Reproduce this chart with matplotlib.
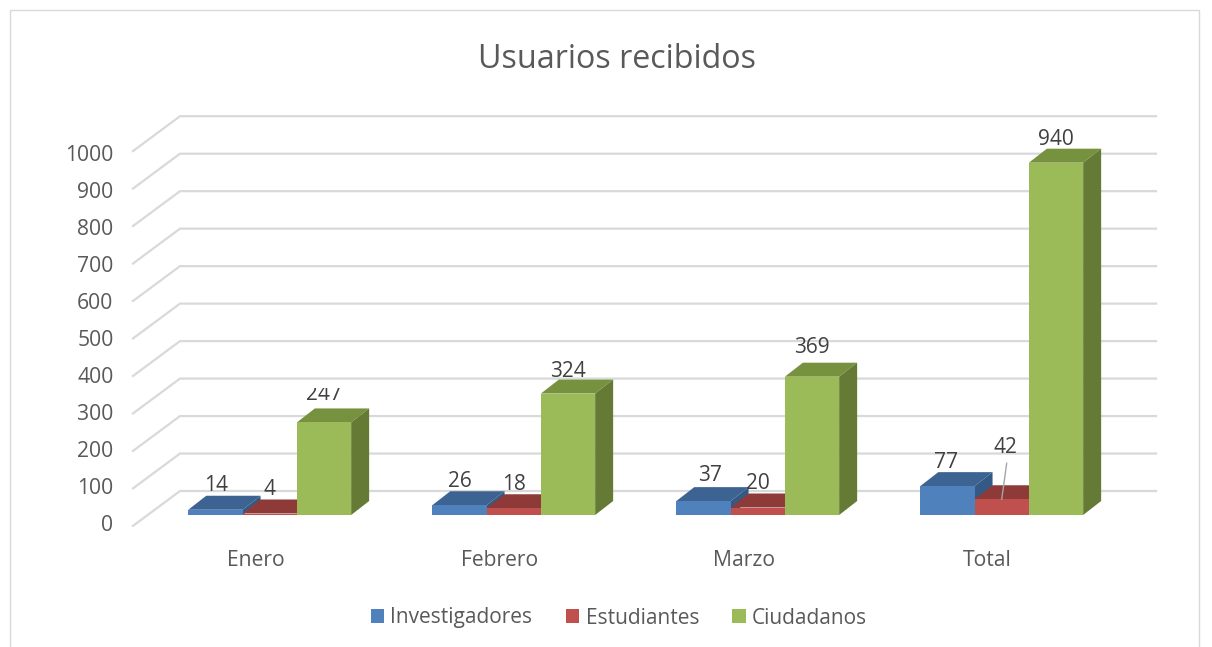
import numpy as np
import matplotlib
matplotlib.use("Agg")
import matplotlib.pyplot as plt
from matplotlib.patches import Polygon, Rectangle
from matplotlib.transforms import Bbox

plt.rcParams['font.family'] = ['Open Sans', 'DejaVu Sans']

months = ['Enero', 'Febrero', 'Marzo', 'Total']
investigadores = [14, 26, 37, 77]
estudiantes = [4, 18, 20, 42]
ciudadanos = [247, 324, 369, 940]
y_ticks = [0, 100, 200, 300, 400, 500, 600, 700, 800, 900, 1000]

W, H = 1212, 647
PX_X = 244.0     # pixels per category
PX_Y = 0.3748    # pixels per user
X0, Y0 = 269.7, 515.0  # pixel of first group centre / bar base

bar_w = 54.3 / PX_X
depth_x = 18 / PX_X
depth_y = 14 / PX_Y

series = [
    ('Investigadores', investigadores, '#4f81bd', '#3c6391', '#335a85'),
    ('Estudiantes', estudiantes, '#c0504d', '#8e3a38', '#7f3432'),
    ('Ciudadanos', ciudadanos, '#9bbb59', '#77923f', '#647a35'),
]

fig = plt.figure(figsize=(W / 100, H / 100), dpi=100)
fig.add_artist(Rectangle((9.5 / W, -0.05), 1189.5 / W, 1.05 - 10 / H, fill=False,
                         edgecolor='#d9d9d9', lw=1.0, transform=fig.transFigure))

left, right, top, bottom = 133, 1156, 100, 526
ax = fig.add_axes([left / W, 1 - bottom / H, (right - left) / W, (bottom - top) / H])
ax.set_xlim((left - X0) / PX_X, (right - X0) / PX_X)
ax.set_ylim((Y0 - bottom) / PX_Y, (Y0 - top) / PX_Y)
for s in ax.spines.values():
    s.set_visible(False)

# walls: gridlines run back from the front edge, then across the back
x_front = ax.get_xlim()[0]
x_back = (180 - X0) / PX_X
x_end = ax.get_xlim()[1]
for v in y_ticks:
    ax.plot([x_front, x_back, x_end], [v - 29, v + 64, v + 64], color='#d9d9d9',
            lw=1.6, zorder=1, solid_joinstyle='miter', clip_on=False)

# bars, left to right so the next one hides the previous depth faces
x = np.arange(len(months))
for i, (name, vals, front, top_c, side) in enumerate(series):
    xs = x + (i - 1) * bar_w
    ax.bar(xs, vals, width=bar_w, color=front, label=name, zorder=3 + i * 2)
    for xc, v in zip(xs, vals):
        l, r = xc - bar_w / 2, xc + bar_w / 2
        ax.add_patch(Polygon([(l, v), (r, v), (r + depth_x, v + depth_y), (l + depth_x, v + depth_y)],
                             facecolor=top_c, edgecolor='none', zorder=2 + i * 2))
        ax.add_patch(Polygon([(r, 0), (r, v), (r + depth_x, v + depth_y), (r + depth_x, depth_y)],
                             facecolor=side, edgecolor='none', zorder=2 + i * 2))

# value labels, nudged in pixels where the original was moved by hand
nudge = {(0, 2): (0, 4), (1, 2): (0, -2), (2, 0): (7, 2), (2, 2): (0, 5),
         (3, 1): (4, 28), (0, 0): (1, 0), (3, 0): (-1, 0), (3, 2): (0, -1)}
for i, (name, vals, *_) in enumerate(series):
    xs = x + (i - 1) * bar_w
    for j, v in enumerate(vals):
        dx, dy = nudge.get((j, i), (0, 0))
        t = ax.annotate(str(v), (xs[j], v), xytext=(dx, 24 + dy), textcoords='offset pixels',
                        ha='center', va='center', fontsize=15, color='#404040', zorder=12,
                        annotation_clip=False)
        if v == 247:
            # top of this label is cut off in the chart
            t.set_clip_box(Bbox([[0, 0], [W, H - 388]]))
            t.set_clip_on(True)

# leader line for the moved label
ax.plot([x[3], x[3] + 5 / PX_X], [42, 42 + 36 / PX_Y], color='#a6a6a6', lw=1.0, zorder=11)

ax.set_xticks(x - 14 / PX_X)
ax.set_xticklabels(months)
ax.tick_params(axis='x', length=0, pad=17.5, labelsize=15.2, labelcolor='#595959')
ax.set_yticks([v * 0.987 - 21 for v in y_ticks])
ax.set_yticklabels([str(v) for v in y_ticks])
ax.tick_params(axis='y', length=0, pad=14, labelsize=15.2, labelcolor='#595959')

fig.text(617 / W, 1 - 60 / H, 'Usuarios recibidos', ha='center', va='center',
         fontsize=23.2, color='#595959')

ax.legend(loc='center', bbox_to_anchor=(619 / W, 1 - 618 / H), bbox_transform=fig.transFigure,
          ncol=3, frameon=False, fontsize=15, labelcolor='#595959', handlelength=0.65,
          handleheight=0.65, handletextpad=0.3, columnspacing=1.6, borderpad=0)

fig.savefig('out.png', dpi=100, facecolor='white')
